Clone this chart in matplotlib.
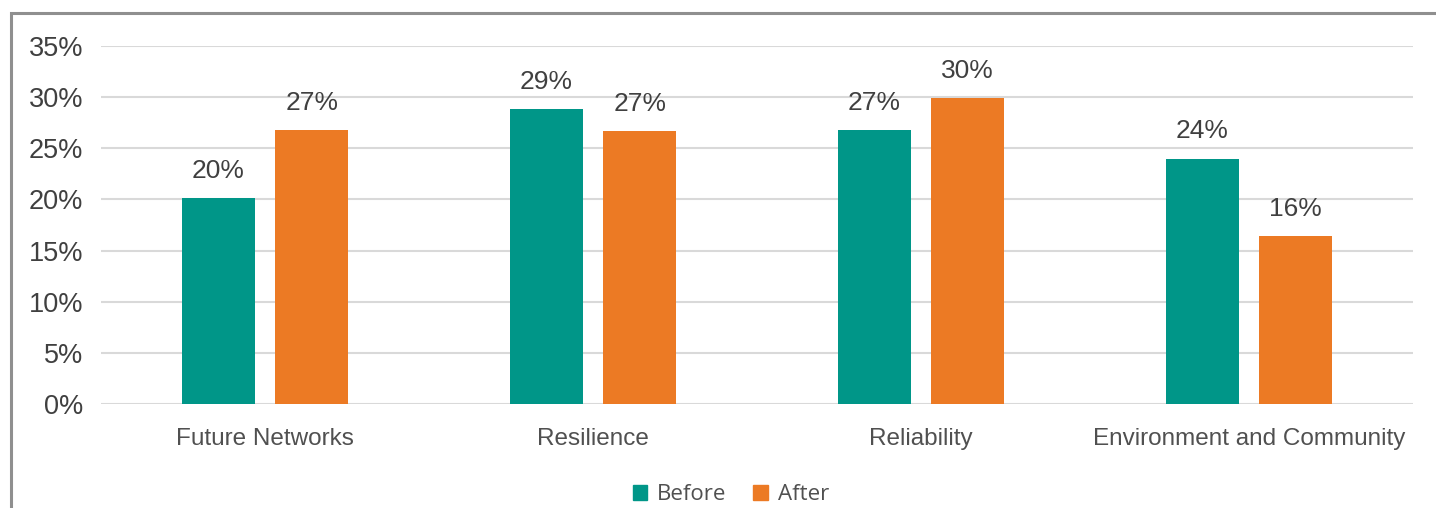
import matplotlib
matplotlib.use("Agg")
import matplotlib.pyplot as plt
from matplotlib.patches import Rectangle, Patch
import numpy as np

categories = ["Future Networks", "Resilience", "Reliability", "Environment and Community"]
before = [20.1, 28.8, 26.8, 24.0]
after = [26.8, 26.7, 29.9, 16.4]
series_names = ["Before", "After"]
yticks = [0, 5, 10, 15, 20, 25, 30, 35]

TEAL = "#009688"
ORANGE = "#EC7A24"
TEXT = "#404040"

W, H = 1436, 508
fig = plt.figure(figsize=(W / 100, H / 100), dpi=100)
fig.patch.set_facecolor("white")

# outer frame (extends past right and bottom edges)
fig.add_artist(Rectangle((10.5 / W, -0.1), 1.2, 1 - 13.5 / H + 0.1,
                         transform=fig.transFigure, fill=False,
                         edgecolor="#8f8f8f", linewidth=2.2, zorder=0))

ax = fig.add_axes([101 / W, 1 - 404 / H, (1413 - 101) / W, (404 - 46) / H])
x = np.arange(len(categories))
bw = 0.222
off = 0.1425
b1 = ax.bar(x - off, before, bw, color=TEAL, zorder=3, label=series_names[0])
b2 = ax.bar(x + off, after, bw, color=ORANGE, zorder=3, label=series_names[1])

for bars, vals in ((b1, before), (b2, after)):
    for rect, v in zip(bars, vals):
        ax.annotate(f"{v:.0f}%", (rect.get_x() + rect.get_width() / 2, v),
                    xytext=(0, 11), textcoords="offset points",
                    ha="center", va="bottom", fontsize=19,
                    family="Liberation Sans", color=TEXT)

ax.set_xlim(-0.5, len(categories) - 0.5)
ax.set_ylim(0, 35)
ax.set_yticks(yticks)
ax.set_yticklabels([f"{t}%" for t in yticks], fontsize=19.5,
                   family="Liberation Sans", color=TEXT)
ax.set_xticks(x)
ax.set_xticklabels(categories, fontsize=17.5, family="Liberation Sans", color="#505050")
ax.tick_params(axis="y", length=0, pad=13)
ax.tick_params(axis="x", length=0, pad=17)
ax.grid(axis="y", color="#d9d9d9", linewidth=1.5, zorder=0)
for s in ax.spines.values():
    s.set_visible(False)

handles = [Patch(color=TEAL), Patch(color=ORANGE)]
fig.legend(handles, series_names, loc="center", bbox_to_anchor=(731 / W, 1 - 495 / H),
           ncol=2, frameon=False, handlelength=0.65, handleheight=0.65,
           handletextpad=0.45, columnspacing=1.2,
           prop={"family": "Open Sans", "size": 16}, labelcolor="#505050")

fig.savefig("out.png", dpi=100, facecolor="white")
